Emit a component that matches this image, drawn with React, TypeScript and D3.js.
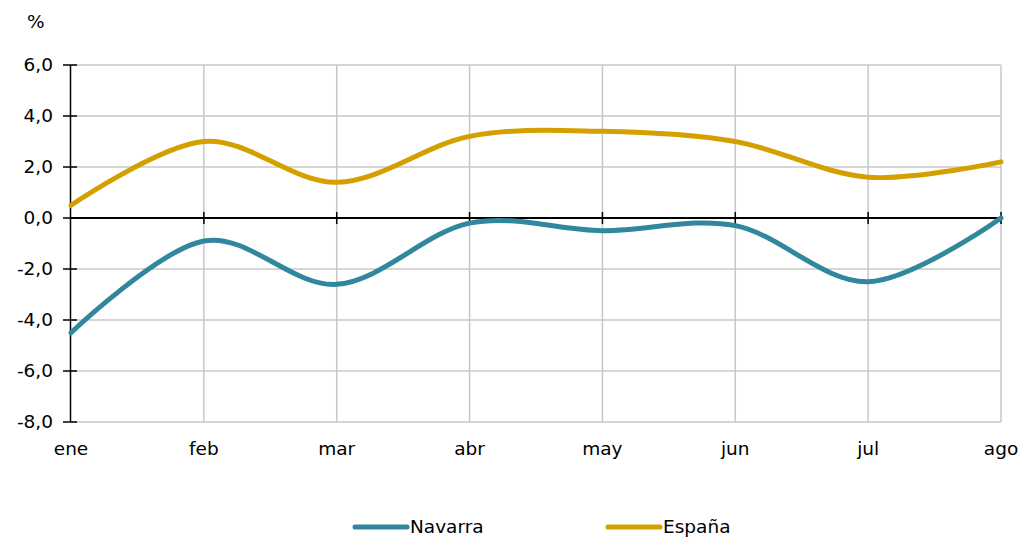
import React from "react";
import * as d3 from "d3";

const categories = ["ene", "feb", "mar", "abr", "may", "jun", "jul", "ago"];
const navarra = [-4.5, -0.9, -2.6, -0.2, -0.5, -0.3, -2.5, 0.0];
const espana = [0.5, 3.0, 1.4, 3.2, 3.4, 3.0, 1.6, 2.2];
const yTicks = [6, 4, 2, 0, -2, -4, -6, -8];
const seriesNames = ["Navarra", "España"];
const seriesColors = ["#31879D", "#D4A000"];

const W = 1021;
const H = 538;
const FONT = "'DejaVu Sans', Verdana, sans-serif";
const FS = 18.5;

export default function App() {
  const x = d3.scalePoint<string>().domain(categories).range([71, 1001]);
  const y = d3.scaleLinear().domain([-8, 6]).range([422, 65]);
  const fmt = (v: number) => v.toFixed(1).replace(".", ",");
  const line = d3
    .line<number>()
    .x((_, i) => x(categories[i]) as number)
    .y((d) => y(d))
    .curve(d3.curveCardinal.tension(0));
  const series = [navarra, espana];
  const legendX = [355, 608];

  return (
    <svg
      width={W}
      height={H}
      style={{ position: "absolute", left: 0, top: 0, background: "#fff" }}
      fontFamily={FONT}
    >
      {/* horizontal grid */}
      {yTicks.map((t) => (
        <line key={"h" + t} x1={71} x2={1001} y1={y(t)} y2={y(t)} stroke="#c8c8c8" strokeWidth={1.5} />
      ))}
      {/* vertical grid */}
      {categories.slice(1).map((c) => (
        <line key={"v" + c} x1={x(c)} x2={x(c)} y1={65} y2={422} stroke="#c8c8c8" strokeWidth={1.5} />
      ))}
      {/* y axis */}
      <line x1={70.5} x2={70.5} y1={65} y2={422} stroke="#000" strokeWidth={1.5} />
      {yTicks.map((t) => (
        <g key={"yt" + t}>
          <line x1={63} x2={77} y1={y(t)} y2={y(t)} stroke="#000" strokeWidth={1.5} />
          <text x={53} y={y(t)} dy="0.35em" textAnchor="end" fontSize={FS} fill="#000">
            {fmt(t)}
          </text>
        </g>
      ))}
      <text x={27} y={22} dy="0.35em" fontSize={FS} fill="#000">%</text>
      {/* x axis at 0 */}
      <line x1={70} x2={1001} y1={y(0)} y2={y(0)} stroke="#000" strokeWidth={2} />
      {categories.map((c) => (
        <g key={"xt" + c}>
          {c !== "ene" && (
            <line x1={x(c)} x2={x(c)} y1={y(0) - 6} y2={y(0) + 6} stroke="#000" strokeWidth={1.5} />
          )}
          <text x={x(c)} y={449} dy="0.35em" textAnchor="middle" fontSize={FS} fill="#000">
            {c}
          </text>
        </g>
      ))}
      {/* series */}
      {series.map((s, i) => (
        <path key={"s" + i} d={line(s) || ""} fill="none" stroke={seriesColors[i]} strokeWidth={5} strokeLinecap="round" />
      ))}
      {/* legend */}
      {seriesNames.map((n, i) => (
        <g key={"lg" + n}>
          <line x1={legendX[i]} x2={legendX[i] + 52} y1={527} y2={527} stroke={seriesColors[i]} strokeWidth={5} strokeLinecap="round" />
          <text x={legendX[i] + 55} y={527} dy="0.35em" fontSize={FS} fill="#000">
            {n}
          </text>
        </g>
      ))}
    </svg>
  );
}
